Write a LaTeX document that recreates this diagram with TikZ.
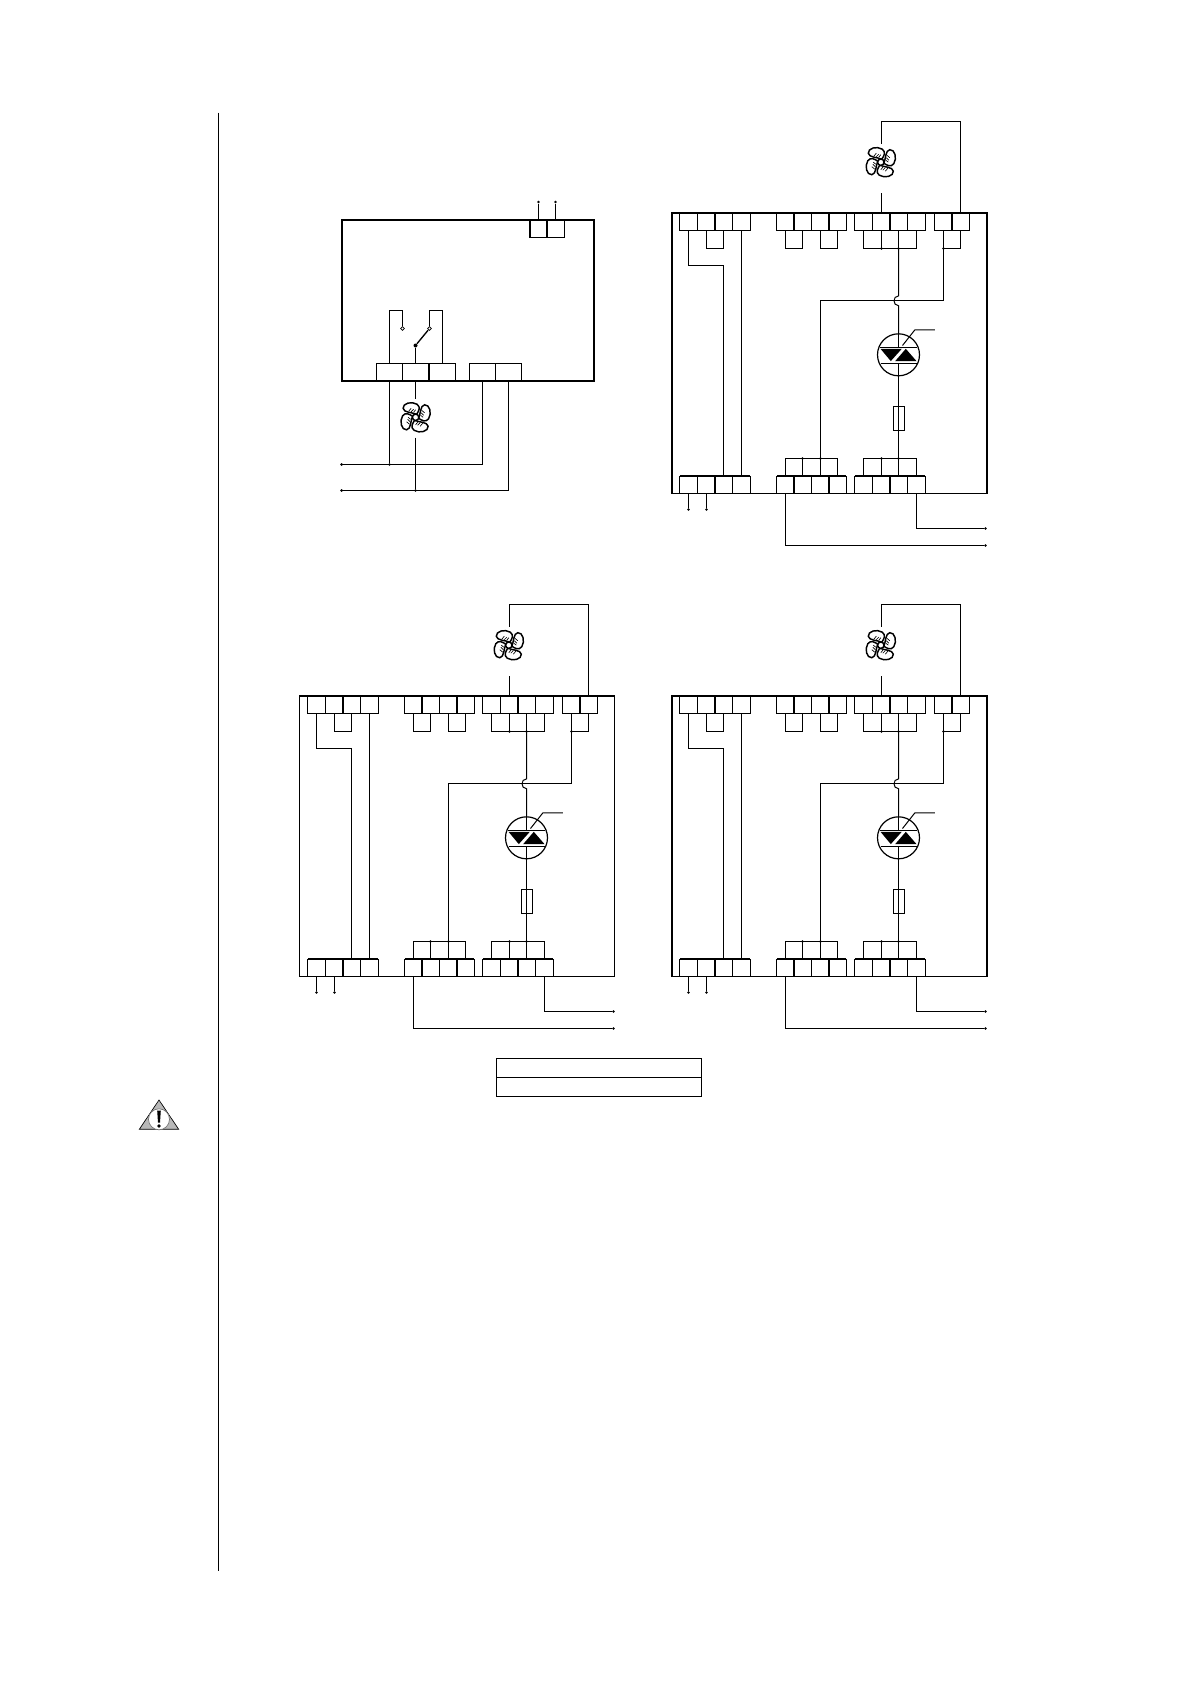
\documentclass[tikz,border=0pt]{standalone}
\tikzset{
  wire/.style={line width=0.75pt},
  panelline/.style={line width=0.8pt},
  heavyline/.style={line width=1.5pt},
  termbox/.style={draw,line width=0.8pt,rectangle,inner sep=0pt,outer sep=0pt,minimum width=13.1pt,minimum height=13.1pt},
  widebox/.style={draw,line width=1pt,rectangle,inner sep=0pt,outer sep=0pt,minimum width=19.7pt,minimum height=13.1pt},
  tablebox/.style={draw,line width=0.8pt,inner sep=0pt,outer sep=0pt,minimum width=153.75pt,minimum height=14.25pt,anchor=north west},
  dotnode/.style={circle,fill,inner sep=0pt,minimum size=2.2pt},
  opendot/.style={circle,draw,fill=white,line width=0.5pt,inner sep=0pt,minimum size=2.8pt},
}
% fan symbol, centre given in px
\newcommand{\fanicon}[2]{
\begin{scope}[shift={(#1,#2)}]
\foreach \a in {0,90,180,270} {
  \draw[line width=1.1pt,rotate=\a] (1,-3) .. controls (-3,-5) and (-12,-4.5) .. (-12.5,-9) .. controls (-13,-14) and (-4,-16.5) .. (1.5,-13) .. controls (5.5,-10) and (3,-6) .. (1,-3);
  \draw[line width=0.5pt,rotate=\a] (-7,-6) -- (-4.5,-9) (-4.5,-5.5) -- (-2,-8) (-2,-5) -- (0,-7.5);
}
\draw[line width=1.1pt,fill=white] (0,0) circle (3.2);
\end{scope}
}
% one panel: prefix, left, top, heavy sides
\newcommand{\wiringpanel}[4]{
\begin{scope}[shift={(#2,#3)}]
\draw[panelline] (0,-1) rectangle (315,280);
\draw[heavyline] #4;
\foreach \g/\x in {A1/17,A2/35,A3/52,A4/70,B1/114,B2/131,B3/149,B4/166,C1/192,C2/210,C3/227,C4/245} {
  \node[termbox] (#1t\g) at (\x,8.2) {};
  \node[termbox] (#1b\g) at (\x,271.3) {};
}
\node[termbox] (#1tD1) at (272,8.2) {};
\node[termbox] (#1tD2) at (289,8.2) {};
\foreach \s/\e in {A1/A4,B1/B4,C1/C4} {
  \draw[line width=1.2pt] (#1b\s.north west) -- (#1b\e.north east);
}
\coordinate (#1rt) at (0,35);
\coordinate (#1rb) at (0,245);
\coordinate (#1rl) at (0,52);
\coordinate (#1rh) at (0,87);
\foreach \s/\e in {tA2/tA3,tB1/tB2,tB3/tB4,tC1/tC4,tD1/tD2} {
  \draw[wire] (#1\s.south) -- (#1\s |- #1rt) -| (#1\e.south);
}
\foreach \s/\e in {bB1/bB4,bC1/bC4} {
  \draw[wire] (#1\s.north) -- (#1\s |- #1rb) -| (#1\e.north);
}
\foreach \g in {C2,C3} {
  \node[dotnode] (#1d\g) at (#1t\g |- #1rt) {};
  \draw[wire] (#1t\g.south) -- (#1d\g.center);
}
\node[dotnode] (#1dD1) at (#1tD1 |- #1rt) {};
\foreach \g in {B2,B3,C2,C3} {
  \node[dotnode] (#1e\g) at (#1b\g |- #1rb) {};
  \draw[wire] (#1b\g.north) -- (#1e\g.center);
}
\draw[wire] (#1tA1.south) -- (#1tA1 |- #1rl) -| (#1bA3.north);
\draw[wire] (#1tA4.south) -- (#1bA4.north);
\draw[wire] (#1dD1.center) -- (#1dD1 |- #1rh) -| (#1eB3.center);
% triac, fuse
\node[circle,draw,line width=0.9pt,inner sep=0pt,outer sep=0pt,minimum size=31.5pt] (#1triac) at (227,141.3) {};
\node[draw,line width=1pt,inner sep=0pt,outer sep=0pt,minimum width=8.2pt,minimum height=18.4pt] (#1fuse) at (227.7,205) {};
\coordinate (#1ha) at (227,82.4);
\coordinate (#1hb) at (227,92.2);
\draw[wire] (#1dC3.center) -- (#1ha) .. controls (221,82.4) and (221,92.2) .. (#1hb) -- (#1triac.north);
\draw[wire] (#1triac.south) -- (#1eC3.center);
\begin{scope}[shift={(227,141.3)}]
\draw[wire] (#1triac.north) -- (0,-7.7);
\draw[wire] (#1triac.south) -- (0,8.3);
\draw[wire] (-18.5,-7.7) -- (18.5,-7.7);
\draw[wire] (-18,8.3) -- (18,8.3);
\fill (-18,-6) -- (3.3,-6) -- (-7.7,6.3) -- cycle;
\fill (-3.3,6.3) -- (18,6.3) -- (7.3,-6) -- cycle;
\coordinate (#1gate) at (36.4,-25);
\draw[wire] (4,-9.3) -- (16.4,-25) -- (#1gate);
\end{scope}
% fan wires
\fanicon{209.3}{-51.3}
\coordinate (#1fa) at (210,-70);
\coordinate (#1fb) at (210,-21);
\coordinate (#1fc) at (210,-92);
\draw[wire] (#1tC2.north) -- (#1fb);
\draw[wire] (#1fa) -- (#1fc) -| (#1tD2.north);
% lower connections
\node[dotnode] (#1pA) at (17,296) {};
\node[dotnode] (#1pB) at (35,296) {};
\node[dotnode] (#1pC) at (314,315) {};
\node[dotnode] (#1pD) at (314,332) {};
\draw[wire] (#1bA1.south) -- (#1pA);
\draw[wire] (#1bA2.south) -- (#1pB);
\draw[wire] (#1bC4.south) |- (#1pC);
\draw[wire] (#1bB1.south) |- (#1pD);
\end{scope}
}
\begin{document}
\begin{tikzpicture}[x=0.75pt,y=-0.75pt]
\useasboundingbox (0,0) rectangle (1190,1684);
\coordinate (ruleA) at (218.5,112.7);
\coordinate (ruleB) at (218.5,1571);
\draw[line width=1pt] (ruleA) -- (ruleB);

% relay panel
\draw[line width=1.2pt] (341.7,220) rectangle (594,381);
\node[termbox,line width=1.2pt,minimum width=13.2pt] (rA) at (538.5,228.6) {};
\node[termbox,line width=1.2pt,minimum width=13.2pt] (rB) at (555.5,228.6) {};
\node[dotnode] (pA) at (538.5,202) {};
\node[dotnode] (pB) at (555.5,202) {};
\draw[wire] (rA.north) -- (pA);
\draw[wire] (rB.north) -- (pB);
\foreach \n/\x in {a/389.5,b/415.5,c/442.5,d/482.5,e/508.5} {
  \node[widebox] (s\n) at (\x,372.3) {};
}
\node[opendot] (oA) at (402.5,328.5) {};
\node[opendot] (oB) at (429.5,328.5) {};
\node[dotnode,minimum size=3pt] (oC) at (415.5,345.5) {};
\coordinate (tA) at (389.5,310.5);
\coordinate (tB) at (442.5,310.5);
\draw[wire] (sa.north) -- (tA) -| (oA);
\draw[wire] (sc.north) -- (tB) -| (oB);
\draw[wire] (sb.north) -- (oC);
\draw[line width=1pt] (oC) -- (oB);
\fanicon{415.6}{417.3}
\coordinate (fA) at (415.5,398.5);
\coordinate (fB) at (415.5,437.5);
\node[dotnode] (mA) at (341.7,464.5) {};
\node[dotnode] (mB) at (341.7,490.5) {};
\node[dotnode] (jA) at (389.5,464.5) {};
\node[dotnode] (jB) at (415.5,490.5) {};
\draw[wire] (sb.south) -- (fA);
\draw[wire] (fB) -- (jB);
\draw[wire] (sa.south) -- (jA);
\draw[wire] (mA) -| (sd.south);
\draw[wire] (mB) -| (se.south);

% triac panels
\wiringpanel{m}{671.5}{213.5}{(0,280) -- (0,-1) -- (315,-1) -- (315,280)}
\wiringpanel{n}{299.5}{696.5}{(0,-1) -- (315,-1)}
\wiringpanel{k}{671.5}{696.5}{(0,280) -- (0,-1) -- (315,-1) -- (315,280)}

% table
\node[tablebox] (tabA) at (496.5,1058.5) {};
\node[tablebox] (tabB) at (496.5,1077.5) {};

% warning sign
\draw[line width=0.5pt,fill=black!28] (159,1100) -- (178.7,1129.3) -- (139.3,1129.3) -- cycle;
\fill[white] (159,1119.3) circle (10.5);
\draw[line width=0.5pt,black!55] (159,1119.3) circle (10.5);
\fill (157.2,1110.7) -- (160.8,1110.7) -- (160,1122.5) -- (158,1122.5) -- cycle;
\fill (159,1126) circle (1.8);
\end{tikzpicture}
\end{document}
